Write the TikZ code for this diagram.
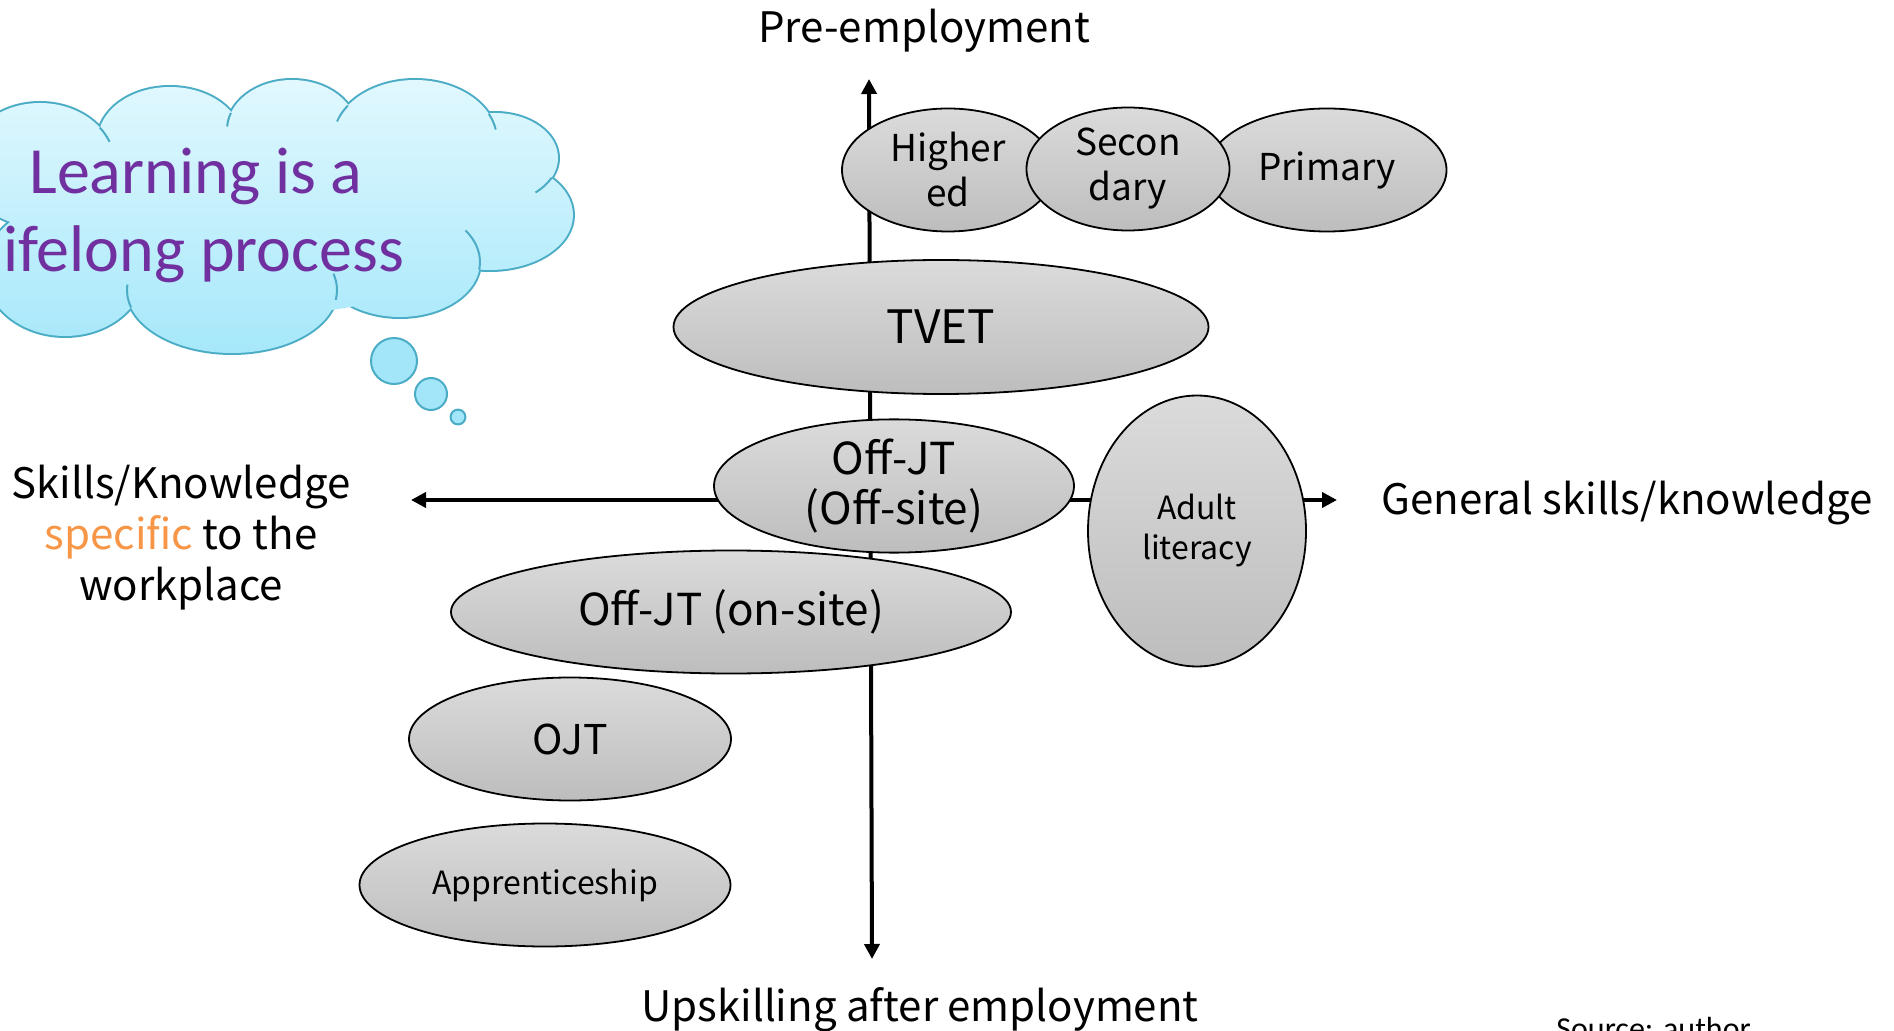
\documentclass[tikz,border=0pt]{standalone}
\usepackage{fontspec}
\setmainfont{Noto Sans CJK JP}
\newfontfamily\calfont{Carlito}
\usetikzlibrary{arrows.meta,shapes.geometric}
\definecolor{elltop}{HTML}{DBDBDB}
\definecolor{ellbot}{HTML}{BDBDBD}
\definecolor{cloudtop}{HTML}{E1F8FE}
\definecolor{cloudbot}{HTML}{A6E8FA}
\definecolor{cloudedge}{HTML}{4BACC6}
\definecolor{bubblefill}{HTML}{A3E6F9}
\definecolor{sloganpurple}{HTML}{7030A0}
\definecolor{specorange}{HTML}{F79646}
\tikzset{
  blob/.style={ellipse, draw=black, line width=0.9pt, top color=elltop, bottom color=ellbot,
    inner sep=0pt, align=center, font=\fontsize{18.5pt}{22.5pt}\selectfont},
  axis/.style={line width=2pt, arrows={Triangle[length=7.5pt,width=7.5pt]-Triangle[length=7.5pt,width=7.5pt]}},
  biglabel/.style={font=\fontsize{21pt}{25.5pt}\selectfont, align=center, inner sep=0pt},
  bubble/.style={draw=cloudedge, line width=1pt, fill=bubblefill},
  hookline/.style={draw=cloudedge, line width=1pt}
}
\begin{document}
\begin{tikzpicture}[x=0.5pt,y=-0.5pt]
\clip (0,0) rectangle (1894,1031);
\fill[white] (0,0) rectangle (1894,1031);

% axes
\coordinate (ytop) at (869,79);
\coordinate (ybot) at (872,959);
\coordinate (xleft) at (411,500);
\coordinate (xright) at (1337,500);
\draw[axis] (ybot) -- (ytop);
\draw[axis] (xleft) -- (xright);

% ellipses
\node[blob, minimum width=106pt, minimum height=61.5pt] (higher) at (948,170) {Higher\\ed};
\node[blob, minimum width=119.5pt, minimum height=61.5pt] (primary) at (1327,170) {Primary};
\node[blob, minimum width=101.5pt, minimum height=61.5pt] (secondary) at (1128,169) {Secon\\dary};
\node[blob, minimum width=267.5pt, minimum height=67pt, font=\fontsize{23pt}{27pt}\selectfont] (tvet) at (941,327) {TVET};
\node[blob, minimum width=180pt, minimum height=61.5pt, font=\fontsize{22pt}{25pt}\selectfont] (offsite) at (894,486) {Off-JT\\(Off-site)};
\node[blob, minimum width=109pt, minimum height=135.5pt, font=\fontsize{16pt}{20pt}\selectfont] (adult) at (1197,531) {Adult\\literacy};
\node[blob, minimum width=280pt, minimum height=61.5pt, font=\fontsize{22pt}{25pt}\selectfont] (onsite) at (731,612) {Off-JT (on-site)};
\node[blob, minimum width=161pt, minimum height=61.5pt, font=\fontsize{20.5pt}{25pt}\selectfont] (ojt) at (570,739) {OJT};
\node[blob, minimum width=185.5pt, minimum height=61.5pt, font=\fontsize{16pt}{20pt}\selectfont] (appr) at (545,885) {Apprenticeship};

% axis labels
\node[biglabel] (pre) at (924,31) {Pre-employment};
\node[biglabel] (post) at (920,1010) {Upskilling after employment};
\node[biglabel, anchor=west] (general) at (1381,503) {General skills/knowledge};
\node[biglabel] (specific) at (181,538) {Skills/Knowledge\\\textcolor{specorange}{specific} to the\\workplace};

% cloud
\draw[cloudedge, line width=2pt]
  (40,165) ellipse [x radius=37.5pt, y radius=31pt]
  (170,140) ellipse [x radius=36pt, y radius=26.5pt]
  (292,130) ellipse [x radius=32.5pt, y radius=25pt]
  (415,140) ellipse [x radius=41pt, y radius=30pt]
  (495,158) ellipse [x radius=31.5pt, y radius=22.5pt]
  (490,215) ellipse [x radius=41.5pt, y radius=27.5pt]
  (400,262) ellipse [x radius=40pt, y radius=27.5pt]
  (232,290) ellipse [x radius=52.5pt, y radius=31.5pt]
  (65,270) ellipse [x radius=40pt, y radius=33pt];
\shade[top color=cloudtop, bottom color=cloudbot]
  (40,165) ellipse [x radius=37.5pt, y radius=31pt]
  (170,140) ellipse [x radius=36pt, y radius=26.5pt]
  (292,130) ellipse [x radius=32.5pt, y radius=25pt]
  (415,140) ellipse [x radius=41pt, y radius=30pt]
  (495,158) ellipse [x radius=31.5pt, y radius=22.5pt]
  (490,215) ellipse [x radius=41.5pt, y radius=27.5pt]
  (400,262) ellipse [x radius=40pt, y radius=27.5pt]
  (232,290) ellipse [x radius=52.5pt, y radius=31.5pt]
  (65,270) ellipse [x radius=40pt, y radius=33pt]
  (260,215) ellipse [x radius=115pt, y radius=50pt];
% inner hooks of the cloud outline
\draw[hookline] ([shift={(37:37.5pt and 31pt)}]40,165) arc[start angle=37, end angle=22, x radius=37.5pt, y radius=31pt];
\draw[hookline] ([shift={(160:32.5pt and 25pt)}]292,130) arc[start angle=160, end angle=176, x radius=32.5pt, y radius=25pt];
\draw[hookline] ([shift={(145:41pt and 30pt)}]415,140) arc[start angle=145, end angle=162, x radius=41pt, y radius=30pt];
\draw[hookline] ([shift={(26:41pt and 30pt)}]415,140) arc[start angle=26, end angle=10, x radius=41pt, y radius=30pt];
\draw[hookline] ([shift={(-26:31.5pt and 22.5pt)}]495,158) arc[start angle=-26, end angle=-50, x radius=31.5pt, y radius=22.5pt];
\draw[hookline] ([shift={(-8:40pt and 27.5pt)}]400,262) arc[start angle=-8, end angle=35, x radius=40pt, y radius=27.5pt];
\draw[hookline] ([shift={(-9:52.5pt and 31.5pt)}]232,290) arc[start angle=-9, end angle=15, x radius=52.5pt, y radius=31.5pt];
\draw[hookline] ([shift={(196:52.5pt and 31.5pt)}]232,290) arc[start angle=196, end angle=175, x radius=52.5pt, y radius=31.5pt];
\path[bubble] (394,361) circle [radius=11.5pt];
\path[bubble] (431,394) circle [radius=8pt];
\path[bubble] (458,417) circle [radius=3.7pt];
\node[font=\calfont\fontsize{33pt}{39pt}\selectfont, text=sloganpurple, align=center, inner sep=0pt] (slogan) at (196,215) {Learning is a\\lifelong process};

% source
\node[anchor=base west, inner sep=0pt, font=\calfont\fontsize{16pt}{19pt}\selectfont] (src) at (1556,1039) {Source: author};
\end{tikzpicture}
\end{document}
